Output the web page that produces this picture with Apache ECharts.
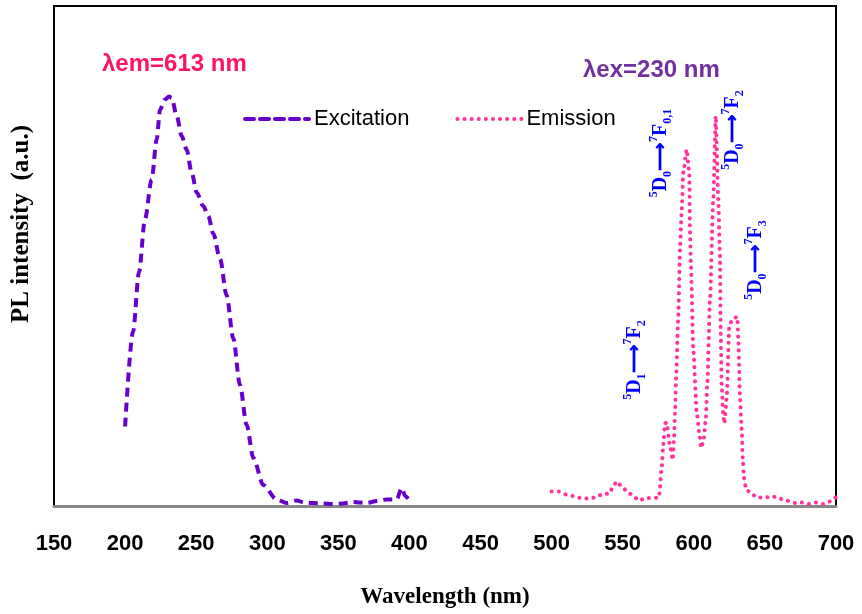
<!DOCTYPE html>
<html>
<head>
<meta charset="utf-8">
<script src="https://cdn.jsdelivr.net/npm/echarts@6/dist/echarts.min.js"></script>
<style>html,body{margin:0;padding:0;background:#fff}#c{width:862px;height:614px}</style>
</head>
<body>
<div id="c"></div>
<script>
// ---- data ----
const xTicks = [150, 200, 250, 300, 350, 400, 450, 500, 550, 600, 650, 700];
const excitationX = [200, 205.6, 209.8, 214, 218.7, 222.2, 224.6, 228, 231, 232.8, 236.3, 239.8, 243.3, 246.8, 250.4, 255, 258.5, 262, 266.8, 271.4, 276.1, 280.8, 285.5, 290.2, 297.2, 306.6, 313.7, 320.7, 326, 332, 339, 346, 353, 360.6, 365, 370, 377, 384, 391, 394.5, 397, 400.4];
const excitationY = [15.9, 34.9, 46.8, 57.4, 65.3, 73.3, 79.3, 81.3, 81.9, 81.6, 78, 74, 71.3, 66.7, 62.7, 60, 58, 54.5, 49.4, 42.1, 33.5, 24.2, 16.2, 9.6, 4.2, 1.3, 0.6, 1.1, 0.7, 0.6, 0.5, 0.4, 0.5, 0.8, 0.7, 0.6, 1.0, 1.3, 1.3, 3.6, 2.0, 0.9];
const emissionX = [500, 505.2, 510.1, 515.2, 520.4, 525.6, 530.7, 535.4, 540.6, 542.9, 545.8, 549.3, 553.2, 557.4, 561.4, 566.4, 571.5, 575.5, 577.4, 578.5, 579.7, 580.8, 583.2, 585.1, 586.1, 586.8, 587.5, 589.1, 590.3, 591.5, 592.6, 595.0, 596.8, 597.3, 598.0, 599.6, 602.0, 603.9, 605.1, 606.7, 608.4, 609.5, 611.4, 613.7, 615.4, 617.2, 618.4, 618.9, 619.6, 620.7, 621.5, 623.1, 625.0, 627.3, 630.6, 631.3, 632.5, 633.7, 634.4, 635.3, 636.7, 640.4, 645.1, 650.3, 655.5, 660.1, 665.3, 670.5, 675.6, 680.8, 685.7, 690.9, 695.8, 700];
const emissionY = [2.9, 2.9, 2.3, 2.0, 1.6, 1.5, 1.7, 2.3, 2.5, 3.7, 4.9, 3.9, 2.9, 2.0, 1.1, 1.6, 1.6, 1.7, 7.6, 12.2, 16.5, 16.7, 12.2, 9.2, 13.5, 18.9, 25.5, 38.1, 51.4, 59.4, 66.7, 71.3, 66.7, 55, 48, 31.5, 18.9, 14.5, 11.6, 12.9, 17.2, 24.5, 41.4, 61.4, 78, 61.4, 50, 34.8, 24.2, 18.2, 16.5, 21.5, 36.1, 37.5, 37.8, 33.5, 21.5, 15.2, 9.6, 5.6, 3.4, 2.4, 1.7, 1.7, 1.9, 1.5, 1.1, 0.6, 0.7, 0.4, 0.7, 0.4, 0.9, 1.8];
const seriesNames = ['Excitation', 'Emission'];
const xTitle = 'Wavelength (nm)';
const yTitle = 'PL intensity  (a.u.)';
const emLabel = 'λem=613 nm';
const exLabel = 'λex=230 nm';

const zip = (xs, ys) => xs.map((x, i) => [x, ys[i]]);

const chart = echarts.init(document.getElementById('c'), null, {renderer: 'canvas'});

const BLUE = '#0000FF';
const trRich = {
  m: {fontFamily: 'Liberation Serif', fontWeight: 'bold', fontSize: 20, fill: BLUE, color: BLUE, lineHeight: 26, verticalAlign: 'middle'},
  sp: {fontFamily: 'Liberation Serif', fontWeight: 'bold', fontSize: 12, fill: BLUE, color: BLUE, verticalAlign: 'top'},
  sb: {fontFamily: 'Liberation Serif', fontWeight: 'bold', fontSize: 12, fill: BLUE, color: BLUE, verticalAlign: 'bottom'}
};
function trans(low, fSub) {
  return '{sp|5}{m|D}{sb|' + low + '}{m|⟶}{sp|7}{m|F}{sb|' + fSub + '}';
}
function annot(x, y, text) {
  return {type: 'text', x: x, y: y, rotation: Math.PI / 2,
    style: {text: text, rich: trRich, fill: BLUE, align: 'center', verticalAlign: 'middle'}};
}

chart.setOption({
  animation: false,
  grid: {left: 54, right: 26, top: 6, bottom: 106, show: true, borderColor: '#000', borderWidth: 2},
  xAxis: {
    type: 'value', min: 150, max: 700, interval: 50,
    axisLine: {show: true, lineStyle: {color: '#888', width: 3}},
    axisTick: {show: false},
    splitLine: {show: false},
    axisLabel: {fontFamily: 'Liberation Sans', fontWeight: 'bold', fontSize: 22, color: '#000', margin: 27},
    name: xTitle, nameLocation: 'middle', nameGap: 80,
    nameTextStyle: {fontFamily: 'Liberation Serif', fontWeight: 'bold', fontSize: 23, color: '#000'}
  },
  yAxis: {
    type: 'value', min: 0, max: 100,
    axisLine: {show: true, lineStyle: {color: '#000', width: 2}},
    axisTick: {show: false}, axisLabel: {show: false}, splitLine: {show: false},
    name: yTitle, nameLocation: 'middle', nameGap: 20,
    nameTextStyle: {fontFamily: 'Liberation Serif', fontWeight: 'bold', fontSize: 25, color: '#000', padding: [0, 0, 0, 64]}
  },
  legend: {
    data: seriesNames, left: 238, top: 103, itemWidth: 64, itemHeight: 20, itemGap: 46,
    itemStyle: {color: 'transparent', borderColor: 'transparent', borderWidth: 0, opacity: 0},
    lineStyle: {width: 4, cap: 'round'},
    textStyle: {fontFamily: 'Liberation Sans', fontSize: 22, color: '#000'}
  },
  series: [
    {name: seriesNames[0], type: 'line', data: zip(excitationX, excitationY), symbol: 'none', smooth: 0.3,
      smoothMonotone: 'x',
      lineStyle: {color: '#6600CC', width: 4, type: [9, 6]}, itemStyle: {color: '#6600CC'}},
    {name: seriesNames[1], type: 'line', data: zip(emissionX, emissionY), symbol: 'none', smooth: 0.2,
      smoothMonotone: 'x',
      lineStyle: {color: '#FF3399', width: 4, type: [0.1, 7], cap: 'round'}, itemStyle: {color: '#FF3399'}}
  ],
  graphic: [
    {type: 'text', left: 102, top: 52, style: {text: emLabel, fontFamily: 'Liberation Sans', fontWeight: 'bold', fontSize: 24, fill: '#FF1367'}},
    {type: 'text', left: 583, top: 58, style: {text: exLabel, fontFamily: 'Liberation Sans', fontWeight: 'bold', fontSize: 24, fill: '#7030A0'}},
    annot(635, 360, trans('1', '2')),
    annot(661, 153, trans('0', '0,1')),
    annot(733, 130, trans('0', '2')),
    annot(756, 260, trans('0', '3'))
  ]
});
</script>
</body>
</html>
